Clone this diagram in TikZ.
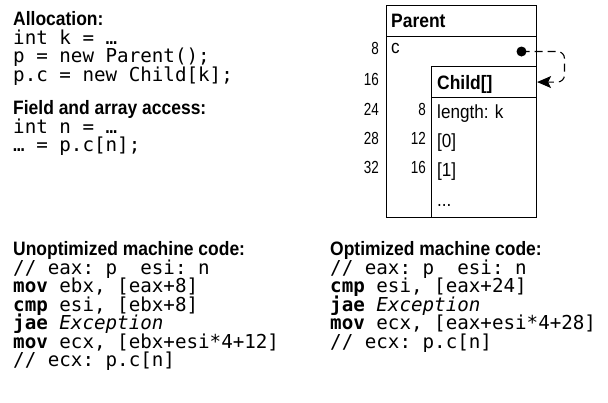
\documentclass[tikz,border=0pt]{standalone}
\usepackage{fontspec}
\setmainfont{Liberation Sans}[FakeStretch=0.9]
\setmonofont{DejaVu Sans Mono}
\newfontfamily\numfont{Liberation Sans}[FakeStretch=0.77]
\usetikzlibrary{arrows.meta}
\newcommand{\codefnt}{\fontsize{19.2pt}{18.5pt}\selectfont\ttfamily}
\newcommand{\headfnt}{\fontsize{19.4pt}{20pt}\selectfont\rmfamily\bfseries}
\newcommand{\lblfnt}{\fontsize{19pt}{20pt}\selectfont\rmfamily}
\newcommand{\nmfnt}{\fontsize{17.5pt}{18pt}\selectfont\numfont}
\tikzset{
  code/.style={anchor=base west, inner sep=0pt, font=\codefnt},
  head/.style={anchor=base west, inner sep=0pt, font=\headfnt},
  lbl/.style={anchor=base west, inner sep=0pt, font=\lblfnt},
  num/.style={anchor=base east, inner sep=0pt, font=\nmfnt},
  box/.style={draw, line width=1.1pt, inner sep=0pt, anchor=north west},
  conn/.style={line width=1.1pt, dash pattern=on 8pt off 5pt, rounded corners=7pt,
    -{Stealth[length=14pt, width=12pt, inset=3pt]}},
}
\begin{document}
\begin{tikzpicture}[x=1pt, y=-1pt]
\path[use as bounding box] (0,0) rectangle (608,402);
% left top code
\node[head] (h1) at (13,25) {Allocation:};
\node[code] (a1) at (13,44) {int k = …};
\node[code] (a2) at (13,62.5) {p = new Parent();};
\node[code] (a3) at (13,81) {p.c = new Child[k];};
\node[head] (h2) at (13,114) {Field and array access:};
\node[code] (b1) at (13,133) {int n = …};
\node[code] (b2) at (13,151.5) {… = p.c[n];};
% unoptimized
\node[head] (h3) at (13,255.5) {Unoptimized machine code:};
\node[code] (u1) at (13,274) {// eax: p\ \ esi: n};
\node[code] (u2) at (13,292.5) {\textbf{mov} ebx, [eax+8]};
\node[code] (u3) at (13,311) {\textbf{cmp} esi, [ebx+8]};
\node[code] (u4) at (13,329.5) {\textbf{jae} \textit{Exception}};
\node[code] (u5) at (13,348) {\textbf{mov} ecx, [ebx+esi*4+12]};
\node[code] (u6) at (13,366.5) {// ecx: p.c[n]};
% optimized
\node[head] (h4) at (330,255.5) {Optimized machine code:};
\node[code] (o1) at (330,274) {// eax: p\ \ esi: n};
\node[code] (o2) at (330,292.5) {\textbf{cmp} esi, [eax+24]};
\node[code] (o3) at (330,311) {\textbf{jae} \textit{Exception}};
\node[code] (o4) at (330,329.5) {\textbf{mov} ecx, [eax+esi*4+28]};
\node[code] (o5) at (330,348) {// ecx: p.c[n]};
% memory diagram
\node[box, minimum width=150pt, minimum height=30.5pt] (phead) at (386,5) {};
\node[box, minimum width=150pt, minimum height=181.5pt] (pbody) at (386,35.5) {};
\node[box, minimum width=105pt, minimum height=31pt] (chead) at (431,66) {};
\node[box, minimum width=105pt, minimum height=120pt] (cbody) at (431,97) {};
\node[head] (pt) at (391,27) {Parent};
\node[lbl] (pc) at (391,53.5) {c};
\node[head] (ct) at (437,89) {Child[]};
\node[lbl] (c1) at (437,118.5) {length: k};
\node[lbl] (c2) at (437,147.5) {[0]};
\node[lbl] (c3) at (437,176.5) {[1]};
\node[lbl] (c4) at (437,206) {...};
\node[num] (n1) at (379,54) {8};
\node[num] (n2) at (379,85) {16};
\node[num] (n3) at (379,115.5) {24};
\node[num] (n4) at (379,144) {28};
\node[num] (n5) at (379,173) {32};
\node[num] (m1) at (426,115.5) {8};
\node[num] (m2) at (426,144) {12};
\node[num] (m3) at (426,173) {16};
\node[circle, fill, inner sep=0pt, minimum size=10pt] (dot) at (521.5,51.5) {};
\draw[conn] (dot.center) -- ++(43,0) |- (chead.east);
\end{tikzpicture}
\end{document}
